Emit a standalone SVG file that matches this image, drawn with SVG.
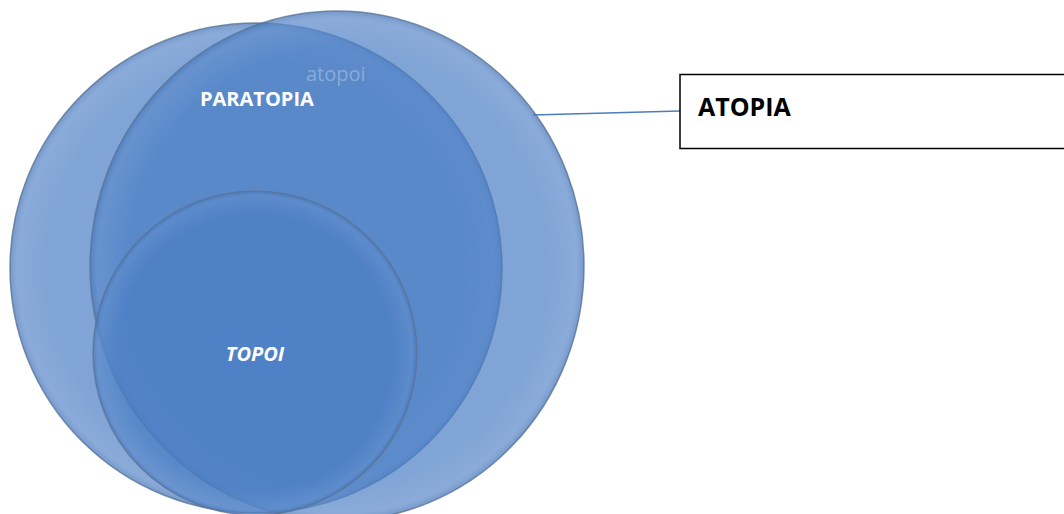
<svg xmlns="http://www.w3.org/2000/svg" width="1064" height="514" viewBox="0 0 1064 514">
<defs>
<style>
.disc{fill:rgb(74,126,196);fill-opacity:0.7;stroke:#5f7898;stroke-opacity:0.8;stroke-width:1.5}
.glow{fill:none;stroke:#cfe3fb;stroke-opacity:0.55;stroke-width:2}
.lbl{font-family:"Open Sans","Liberation Sans",sans-serif;font-weight:bold;fill:#ffffff}
</style>
<radialGradient id="shade" cx="0.5" cy="0.5" r="0.5">
<stop offset="0.85" stop-color="#ffffff" stop-opacity="0"/>
<stop offset="0.97" stop-color="#ffffff" stop-opacity="0.08"/>
<stop offset="1" stop-color="#1f3f70" stop-opacity="0.12"/>
</radialGradient>
</defs>
<rect width="1064" height="514" fill="#ffffff"/>
<g id="connectors">
<line x1="533" y1="115" x2="680" y2="111" stroke="#4a7ebb" stroke-width="1.5"/>
</g>
<g id="atopia-left">
<ellipse class="disc" cx="256" cy="268" rx="246" ry="245"/>
<ellipse cx="256" cy="268" rx="246" ry="245" fill="url(#shade)"/>
</g>
<g id="paratopia">
<ellipse class="disc" cx="337" cy="266" rx="247" ry="255"/>
<ellipse cx="337" cy="266" rx="247" ry="255" fill="url(#shade)"/>
<text class="lbl" x="200" y="106" font-size="20">PARATOPIA</text>
<text x="306" y="81" font-family="'Open Sans','Liberation Sans',sans-serif" font-size="20" fill="#ffffff" fill-opacity="0.3">atopoi</text>
</g>
<g id="topoi">
<circle class="disc" cx="255" cy="353" r="162"/>
<circle cx="255" cy="353" r="162" fill="url(#shade)"/>
<text class="lbl" x="255" y="361" font-size="20" font-style="italic" text-anchor="middle">TOPOI</text>
</g>
<g id="atopia-box">
<rect x="680" y="74.5" width="400" height="74" fill="#ffffff" stroke="#000000" stroke-width="1.5"/>
<text x="698" y="116" font-family="'Open Sans','Liberation Sans',sans-serif" font-weight="bold" font-size="25" fill="#000000">ATOPIA</text>
</g>
</svg>
